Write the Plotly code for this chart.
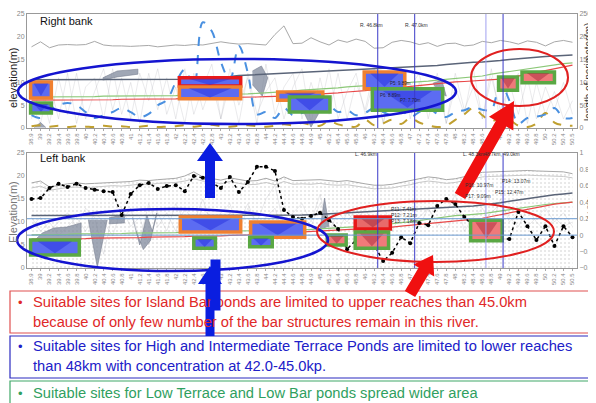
import plotly.graph_objects as go
import math

# ---------------- data ----------------
km_labels = ["38.9","39","39.2","39.4","39.6","39.8","40","40.2","40.4","40.6","40.8",
             "41","41.2","41.4","41.6","41.8","42","42.2","42.4","42.6","42.8",
             "43","43.2","43.4","43.6","43.8","44","44.2","44.4","44.6","44.8","44.9",
             "45","45.2","45.4","45.6","45.8","46","46.2","46.4","46.6","46.8",
             "47","47.2","47.4","47.6","47.8","48","48.2","48.4","48.6","48.8",
             "49","49.2","49.4","49.6","49.8","50","50.2","50.4","50.5"]
idx = list(range(len(km_labels)))

# Right bank (top panel)
bank_R = [17.8,18.9,17.6,18.2,18.3,18.2,18.3,19.0,18.2,18.0, 18.0,17.9,18.0,18.1,17.8,18.0,18.2,18.1,18.3,18.2,
          18.5,18.9,18.6,18.4,18.5,18.4,18.2,20.5,22.4,18.5, 18.6,19.8,18.9,18.2,19.3,18.8,19.5,19.0,17.5,17.6,
          18.8,19.2,18.9,18.3,18.7,17.9,18.5,18.6,18.0,18.2, 19.0,18.7,19.2,18.9,18.4,19.1,18.8,18.0,18.9,19.2, 18.8]
dark_R = [10.6,10.6,10.6,10.6,10.6,10.6,10.6,10.6,10.6,10.6, 10.6,10.6,10.6,10.6,10.6,10.6,10.6,10.7,10.8,10.9,
          11.0,11.1,11.3,11.5,11.6,11.7,11.8,11.9,12.0,12.1, 12.2,12.2,12.3,12.4,12.5,12.6,12.7,12.8,12.9,13.0,
          13.1,13.2,13.3,13.4,13.5,13.7,13.9,14.1,14.3,14.4, 14.5,14.6,14.8,15.0,15.2,15.4,15.6,15.7,15.8,15.9, 16.0]
green_R = [6.8,6.8,6.8,6.9,6.9,6.9,6.9,6.9,7.0,7.0, 7.0,7.0,7.0,7.1,7.1,7.1,7.1,7.2,7.2,7.3,
           7.3,7.4,7.4,7.5,7.5,7.6,7.7,7.8,7.9,8.1, 8.3,8.4,8.5,8.7,8.8,9.0,9.1,9.2,9.4,9.6,
           9.8,9.9,10.0,10.1,10.3,10.5,10.7,10.9,11.0,11.2, 11.4,11.8,12.1,12.3,12.6,12.9,13.2,13.5,13.8,14.1, 14.3]
red_R = [6.1,6.1,6.1,6.1,6.1,6.2,6.2,6.2,6.2,6.2, 6.3,6.3,6.3,6.3,6.4,6.4,6.4,6.5,6.5,6.6,
         6.6,6.6,6.7,6.7,6.8,6.8,6.9,6.9,7.0,7.1, 7.2,7.3,7.4,7.6,7.7,7.9,8.0,8.2,8.4,8.5,
         8.7,8.9,9.1,9.4,9.6,9.8,10.0,10.1,10.2,10.3, 10.4,10.5,10.7,11.0,11.4,11.8,12.2,12.7,13.1,13.5, 13.8]
jag_R1 = [2,9,1,11,3,12,2,8,13,4, 11,2,12,6,13,3,9,1,12,4, 10,2,13,5,11,1,14,3,9,12,
          2,10,4,13,2,8,12,3,11,1, 9,13,2,10,4,12,1,9,3,13, 2,11,4,9,12,1,10,3,8,2, 6]
jag_R2 = [5,1,10,2,12,1,9,11,2,13, 3,10,1,12,4,11,2,13,3,9, 14,2,10,1,12,3,8,11,2,9,
          13,1,11,3,12,2,10,4,13,1, 11,3,9,12,2,10,1,12,4,9, 2,13,1,10,3,11,2,9,4,10, 3]
perim_R = [28,22,39,50,55,50,35,22,28,35, 44,35,24,31,50,61,100,128,90,232,
           212,145,105,180,120,30,35,22,44,28, 33,39,35,48,35,39,28,33,44,35,
           28,39,24,35,44,31,24,35,39,46, 40,40,99,60,10,22,25,30,44,22, 22]
perim2_R = [4,6,3,5,2,4,3,2,5,3, 4,2,3,5,2,3,4,6,3,5, 7,4,3,5,6,4,3,5,8,6,
            11,7,5,15,8,4,3,18,6,10, 18,9,22,12,6,2,5,18,30,44, 28,15,22,18,5,2,10,33,12,6, 5]
gray_polys_R = [
    ([7.9, 9.5, 11.8, 11.8, 9.5, 7.9], [11.0, 12.5, 12.9, 11.8, 11.2, 10.5]),
    ([24.5, 25.5, 26.2, 25.6, 24.5], [12.5, 13.6, 11.0, 7.0, 9.5]),
    ([29.7, 31.0, 32.8, 31.5], [5.5, 0.2, 6.5, 4.0]),
    ([44.5, 45.5, 46.0, 45.0], [9.8, 10.5, 7.0, 8.0]),
    ([0.3, 1.0, 1.6], [0.1, 1.2, 0.1]),
]
# ponds: (type, km-index from, km-index to, elev bottom, elev top)
ponds_R = [("IT", -0.1, 2.2, 6.6, 10.1), ("LT", -0.1, 2.2, 3.3, 5.5),
           ("HT", 16.4, 23.2, 9.2, 11.0), ("IT", 16.4, 23.2, 6.4, 9.0),
           ("IT", 27.3, 32.3, 6.1, 7.9), ("LT", 28.6, 33.1, 3.5, 6.8),
           ("IT", 36.9, 41.4, 8.6, 12.3), ("LT", 37.8, 45.6, 3.9, 8.6),
           ("IB", 51.8, 53.9, 8.3, 11.2), ("IB", 54.4, 58.0, 9.9, 12.3)]

# Left bank (bottom panel)
bank_L1 = [18.5,18.9,17.6,18.0,18.3,18.5,18.3,18.4,18.5,18.6, 18.6,18.8,19.1,19.0,19.2,19.3,19.5,20.0,20.9,19.8,
           19.5,19.1,19.6,19.2,18.9,19.0,19.5,18.9,19.8,19.0, 19.1,19.1,19.2,19.0,18.8,19.0,18.6,18.3,18.0,18.0,
           18.2,18.6,19.0,19.5,19.8,19.6,19.2,19.4,19.8,20.3, 20.8,20.9,21.0,21.1,21.2,21.2,21.1,21.0,20.9,20.9, 20.5]
bank_L2 = [17.4,17.8,16.9,17.2,17.5,17.6,17.4,17.6,17.8,17.9, 17.8,18.0,18.2,18.1,18.4,18.5,18.6,18.9,19.4,18.9,
           18.7,18.3,18.8,18.4,18.1,18.2,18.6,18.1,18.8,18.2, 18.3,18.2,18.4,18.1,18.0,18.1,17.8,17.5,17.2,17.3,
           17.4,17.8,18.1,18.6,18.9,18.7,18.4,18.6,19.0,19.4, 19.8,19.9,20.0,20.1,20.2,20.2,20.1,20.0,19.9,19.9, 19.6]
slate_L = [11.4,11.4,11.4,11.4,11.4,11.4,11.4,11.4,11.4,11.4, 11.4,11.4,11.4,11.4,11.4,11.4,11.4,11.4,11.4,11.4,
           11.4,11.4,11.4,11.4,11.4,11.4,11.4,11.4,11.4,11.5, 11.5,11.6,11.7,11.8,11.9,12.0,12.1,12.2,12.3,12.4,
           12.5,12.6,12.7,12.8,12.9,13.0,13.1,13.2,13.3,13.5, 13.7,13.9,14.2,14.5,14.8,15.1,15.4,15.7,15.9,16.1, 16.3]
green_L = [7.2,7.2,7.3,7.3,7.3,7.4,7.4,7.4,7.5,7.5, 7.5,7.6,7.6,7.6,7.7,7.7,7.7,7.8,7.8,7.9,
           7.9,8.0,8.0,8.0,8.1,8.1,8.2,8.2,8.3,8.3, 8.3,8.4,8.5,8.6,8.7,8.8,8.9,9.0,9.2,9.4,
           9.6,9.8,10.0,10.3,10.6,10.9,11.2,11.4,11.5,11.6, 11.8,12.1,12.4,12.7,13.0,13.3,13.6,13.8,14.0,14.2, 14.3]
red_L = [6.3,6.3,6.3,6.4,6.4,6.4,6.4,6.5,6.5,6.5, 6.6,6.6,6.6,6.7,6.7,6.7,6.8,6.8,6.9,6.9,
         7.0,7.0,7.1,7.1,7.2,7.3,7.4,7.5,7.6,7.7, 7.8,7.9,8.0,8.1,8.2,8.3,8.4,8.5,8.6,8.8,
         8.9,9.1,9.3,9.5,9.7,9.9,10.1,10.3,10.4,10.6, 10.8,11.2,11.6,12.0,12.4,12.8,13.2,13.6,13.9,14.1, 14.3]
dot_L = [15.0,15.2,17.4,18.3,17.6,18.3,17.4,17.0,16.7,16.5, 11.5,16.1,18.0,18.5,17.2,17.8,18.0,16.7,20.0,19.6,
         18.5,17.4,19.8,16.5,18.7,22.0,22.0,21.1,12.6,11.1, 10.7,11.3,12.0,10.4,8.5,4.1,6.1,7.8,5.0,1.5,
         3.3,6.7,5.4,9.8,9.3,13.5,15.0,13.9,11.1,9.1, 7.0,7.2,6.3,6.3,12.2,9.1,6.1,9.1,4.8,9.1, 6.7]
jag_L1 = [9,11,8,10,12,9,13,11,3,12, 10,13,6,14,9,12,8,13,10,15, 9,12,14,8,13,10,15,18,9,12,
          14,10,16,8,12,10,13,9,11,14, 8,12,10,11,13,9,12,16,8,11, 13,9,15,10,12,9,11,13,10,12, 9]
jag_L2 = [11,8,10,7,9,11,8,12,10,7, 13,9,11,5,12,8,14,10,9,13, 11,8,12,10,14,9,11,13,7,10,
          12,9,14,11,8,12,10,13,9,8, 12,10,11,9,13,10,8,12,11,9, 10,12,14,11,9,13,10,8,11,9, 10]
gray_polys_L = [
    ([0, 1.2, 2.5, 3.9, 5.5, 5.5, 3.0, 1.5, 0], [5.4, 7.6, 8.7, 8.9, 9.8, 6.1, 4.5, 2.2, 3.9]),
    ([6.3, 7.3, 8.4], [10.5, 0.2, 10.5]),
    ([8.6, 10.3, 10.3, 8.6], [10.9, 11.6, 9.8, 9.6]),
    ([11.2, 12.0, 12.8, 13.4, 13.9, 13.2, 12.4, 11.6], [11.0, 5.0, 11.5, 8.0, 12.0, 6.0, 4.0, 8.0]),
    ([32.0, 32.5, 33.0], [8.3, 15.2, 9.0]),
]
ponds_L = [("LT", -0.1, 5.3, 2.8, 6.1), ("IT", 16.5, 23.2, 7.8, 11.1), ("LT", 18.0, 20.4, 4.3, 6.5),
           ("IT", 24.3, 30.3, 6.7, 10.0), ("LT", 24.2, 26.7, 4.6, 6.7),
           ("IB", 32.8, 34.9, 5.0, 7.2), ("IBH", 35.9, 39.8, 8.5, 11.1), ("IB", 35.9, 39.6, 4.3, 7.8),
           ("IB", 48.7, 52.2, 5.9, 10.4)]
pvsi_refs = [0, 0.2]
section_marks = [38.4, 42.5, 50.4, 52.3]

# ---------------- figure ----------------
OFF = 8                      # page body margin
W, H = 596 - OFF, 403 - OFF
ML, MR = 27 - OFF, 596 - 577
PW = W - ML - MR
def X(p): return (p - OFF - ML) / PW
def Y(p): return 1 - (p - OFF) / H

fig = go.Figure()

def add_panel(xa, ya, bank1, bank2, dark, green, red, jag1, jag2, polys, dotted):
    if dotted:
        fig.add_trace(go.Scatter(x=idx, y=bank1, xaxis=xa, yaxis=ya, mode="lines", line=dict(width=0),
                                 fill="tozeroy", fillcolor="rgba(255,255,255,0)",
                                 fillpattern=dict(shape=".", fgcolor="#c4c4c4", size=4, solidity=0.2)))
    for j in (jag1, jag2):
        fig.add_trace(go.Scatter(x=idx, y=j, xaxis=xa, yaxis=ya, mode="lines",
                                 line=dict(color="rgba(140,140,150,0.3)", width=0.6)))
    for px_, py_ in polys:
        fig.add_trace(go.Scatter(x=px_, y=py_, xaxis=xa, yaxis=ya, mode="lines", fill="toself",
                                 fillcolor="rgba(120,130,150,0.7)", line=dict(color="#7a8292", width=0.6)))
    fig.add_trace(go.Scatter(x=idx, y=bank1, xaxis=xa, yaxis=ya, mode="lines", line=dict(color="#a8a8a8", width=1)))
    if bank2 is not None:
        fig.add_trace(go.Scatter(x=idx, y=bank2, xaxis=xa, yaxis=ya, mode="lines", line=dict(color="#c8c8c8", width=1)))
    fig.add_trace(go.Scatter(x=idx, y=dark, xaxis=xa, yaxis=ya, mode="lines", line=dict(color="#5a6478", width=1.5)))
    fig.add_trace(go.Scatter(x=idx, y=green, xaxis=xa, yaxis=ya, mode="lines", line=dict(color="#8cc878", width=1.2)))
    fig.add_trace(go.Scatter(x=idx, y=red, xaxis=xa, yaxis=ya, mode="lines", line=dict(color="#e84848", width=1.2)))

add_panel("x", "y", bank_R, None, dark_R, green_R, red_R, jag_R1, jag_R2, gray_polys_R, False)
fig.add_trace(go.Scatter(x=idx, y=perim2_R, xaxis="x", yaxis="y2", mode="lines", line_shape="spline",
                         line=dict(color="#c0a030", width=2, dash="dash")))
fig.add_trace(go.Scatter(x=idx, y=perim_R, xaxis="x", yaxis="y2", mode="lines", line_shape="spline",
                         line=dict(color="#4a90e0", width=2, dash="dash")))

add_panel("x2", "y3", bank_L1, bank_L2, slate_L, green_L, red_L, jag_L1, jag_L2, gray_polys_L, True)
fig.add_trace(go.Scatter(x=idx, y=dot_L, xaxis="x2", yaxis="y3", mode="lines+markers",
                         line=dict(color="black", width=1.5, dash="dot"), marker=dict(color="black", size=4)))

shapes = []
pond_style = {"HT": ("#e81818", "#5c6cf2"), "IT": ("#f08030", "#5c6cf2"), "LT": ("#5aa844", "#5c6cf2"),
              "IB": ("#5aa844", "#f07a7a"), "IBH": ("#e81818", "#e86a6a")}
inner_col = {"HT": "rgba(30,40,220,0.45)", "IT": "rgba(30,40,220,0.45)", "LT": "rgba(30,40,220,0.45)",
             "IB": "rgba(160,30,50,0.45)", "IBH": "rgba(150,30,50,0.45)"}
for ponds, xr, yr in ((ponds_R, "x", "y"), (ponds_L, "x2", "y3")):
    for t, a, b, c, d in ponds:
        lc, fc = pond_style[t]
        shapes.append(dict(type="rect", xref=xr, yref=yr, x0=a, x1=b, y0=c, y1=d,
                           fillcolor=fc, line=dict(color=lc, width=3.5), layer="above"))
        m = (a + b) / 2
        shapes.append(dict(type="path", xref=xr, yref=yr,
                           path=f"M {a+0.15*(b-a)},{d-0.1*(d-c)} L {m},{c+0.12*(d-c)} L {b-0.15*(b-a)},{d-0.1*(d-c)} Z",
                           fillcolor=inner_col[t], line=dict(width=0)))

for i, s in enumerate(section_marks):
    col = "#a0a0f0" if i == 2 else "#3a3ac8"
    shapes.append(dict(type="line", xref="x", yref="y domain", x0=s, x1=s, y0=0, y1=1, line=dict(color=col, width=1)))
    shapes.append(dict(type="line", xref="x2", yref="y3 domain", x0=s, x1=s, y0=0, y1=1, line=dict(color=col, width=1)))
for v in pvsi_refs:
    shapes.append(dict(type="line", xref="x2 domain", yref="y4", x0=0, x1=1, y0=v, y1=v,
                       line=dict(color="#6a9ad0", width=1)))

def ell(x0, x1, y0, y1, col, w):
    shapes.append(dict(type="circle", xref="paper", yref="paper", x0=X(x0), x1=X(x1), y0=Y(y1), y1=Y(y0),
                       line=dict(color=col, width=w)))
ell(18, 456, 59, 124, "#1414d0", 2.5)
ell(471, 568, 49, 106, "#e02020", 2)
ell(17, 328, 209, 271, "#1414d0", 2.5)
ell(317, 554, 201, 262, "#e02020", 2)

def box(y0, y1, col):
    shapes.append(dict(type="rect", xref="paper", yref="paper", x0=X(10), x1=X(593), y0=Y(y1), y1=Y(y0),
                       line=dict(color=col, width=1.2), fillcolor="white"))
box(291, 333, "#e05050")
box(336, 378, "#2a2ac0")
box(381, 406, "#40a868")

def arrow(tail, tip, sw, hw, hl, col):
    dx, dy = tip[0] - tail[0], tip[1] - tail[1]
    n = math.hypot(dx, dy)
    ux, uy = dx / n, dy / n
    nx, ny = -uy, ux
    bx, by = tip[0] - ux * hl, tip[1] - uy * hl
    pts = [(tail[0] + nx * sw, tail[1] + ny * sw), (bx + nx * sw, by + ny * sw), (bx + nx * hw, by + ny * hw),
           tip, (bx - nx * hw, by - ny * hw), (bx - nx * sw, by - ny * sw), (tail[0] - nx * sw, tail[1] - ny * sw)]
    path = "M " + " L ".join(f"{X(p[0]):.5f},{Y(p[1]):.5f}" for p in pts) + " Z"
    shapes.append(dict(type="path", xref="paper", yref="paper", path=path, fillcolor=col, line=dict(width=0)))
BLUE = "#0a1ee0"
arrow((210, 198), (210, 143), 5, 13, 18, BLUE)
arrow((210, 336), (210, 266), 4.5, 12, 18, BLUE)
arrow((460, 196), (514, 101), 6, 14, 26, "#f01010")
arrow((410, 294), (433, 255), 6, 12, 18, "#f01010")

ann = []
def txt(x, y, s, size=6, col="#333", xa="left", angle=0):
    ann.append(dict(x=X(x), y=Y(y), xref="paper", yref="paper", text=s, showarrow=False, xanchor=xa,
                    yanchor="middle", textangle=angle, font=dict(size=size, color=col)))
txt(38, 21, "Right bank", 11, "#111")
txt(38, 158, "Left bank", 11, "#111")
txt(13, 78, "elevation(m)", 11, "#222", "center", -90)
txt(13, 212, "Elevation(m)", 11, "#777", "center", -90)
txt(589, 72, "length of perimeter(m)", 10, "#333", "center", -90)
txt(590, 207, "あ<br>の<br>乙", 6.5, "#555", "center")
txt(358, 25, "R. 46.8km", 5)
txt(403, 25, "R. 47.0km", 5)
txt(353, 154, "L. 46.9km", 5)
txt(461, 154, "L. 48.3km", 5)
txt(482, 154, "48.7km, 49.0km", 5)
txt(388, 83, "P5: 9.89m", 4.5, "#223")
txt(378, 96, "P6: 8.89m", 4.5, "#223")
txt(398, 100, "P7: 7.70m", 4.5, "#223")
txt(389, 209, "P11: 7.41m", 5)
txt(389, 215, "P12: 7.21m", 5)
txt(389, 221, "P13: 7.18m", 5)
txt(463, 185, "P16: 10.97m", 5)
txt(463, 196, "P17: 9.09m", 5)
txt(500, 181, "P14: 13.07m", 5)
txt(493, 192, "P15: 12.47m", 5)

FONT = "Liberation Sans, Arial, sans-serif"
FS = 14.7
def line(y, s, col, bullet=True):
    if bullet:
        ann.append(dict(x=X(16), y=Y(y), xref="paper", yref="paper", text="•", showarrow=False, xanchor="left",
                        yanchor="middle", font=dict(size=13, color=col, family=FONT)))
    ann.append(dict(x=X(31), y=Y(y), xref="paper", yref="paper", text=s, showarrow=False, xanchor="left",
                    yanchor="middle", font=dict(size=FS, color=col, family=FONT)))
RED_T, BLUE_T, GREEN_T = "#e02828", "#2020c8", "#30a060"
line(302, "Suitable sites for Island Bar ponds are limited to upper reaches than 45.0km", RED_T)
line(322, "because of only few number of the bar structures remain in this river.", RED_T, False)
line(346, "Suitable sites for High and Intermediate Terrace Ponds are limited to lower reaches", BLUE_T)
line(366, "than 48km with concentration at 42.0-45.0kp.", BLUE_T, False)
line(393, "Suitable sites for Low Terrace and Low Bar ponds spread wider area", GREEN_T)
ann.append(dict(x=X(210), y=Y(311), xref="paper", yref="paper", text=" ", showarrow=False,
                width=9, height=50, bgcolor=BLUE, borderpad=0, font=dict(size=1)))

tickfont = dict(size=6, color="#888")
xax = dict(range=[-0.5, 60.5], tickmode="array", tickvals=idx, ticktext=km_labels, tickangle=-90,
           tickfont=tickfont, showline=True, linecolor="#999", mirror=True, ticks="outside", ticklen=2,
           tickcolor="#aaa", showgrid=False, zeroline=False, domain=[0, 1], automargin=False)
yfont = dict(size=7, color="#888")
ycommon = dict(showgrid=False, zeroline=False, showline=True, linecolor="#999", tickfont=yfont, automargin=False)
fig.update_layout(
    width=W, height=H, margin=dict(l=ML, r=MR, t=0, b=0, autoexpand=False), paper_bgcolor="white",
    plot_bgcolor="white", showlegend=False, font=dict(family=FONT),
    xaxis=dict(xax, anchor="y"),
    xaxis2=dict(xax, anchor="y3"),
    yaxis=dict(ycommon, domain=[Y(128), Y(14)], range=[0, 25], dtick=5, anchor="x"),
    yaxis2=dict(ycommon, overlaying="y", side="right", range=[0, 250], dtick=50, anchor="x"),
    yaxis3=dict(ycommon, domain=[Y(268), Y(153)], range=[0, 25], dtick=5, anchor="x2"),
    yaxis4=dict(ycommon, overlaying="y3", side="right", range=[-0.4, 1], dtick=0.2, anchor="x2"),
    shapes=shapes, annotations=ann,
)
fig.write_html("out.html")
